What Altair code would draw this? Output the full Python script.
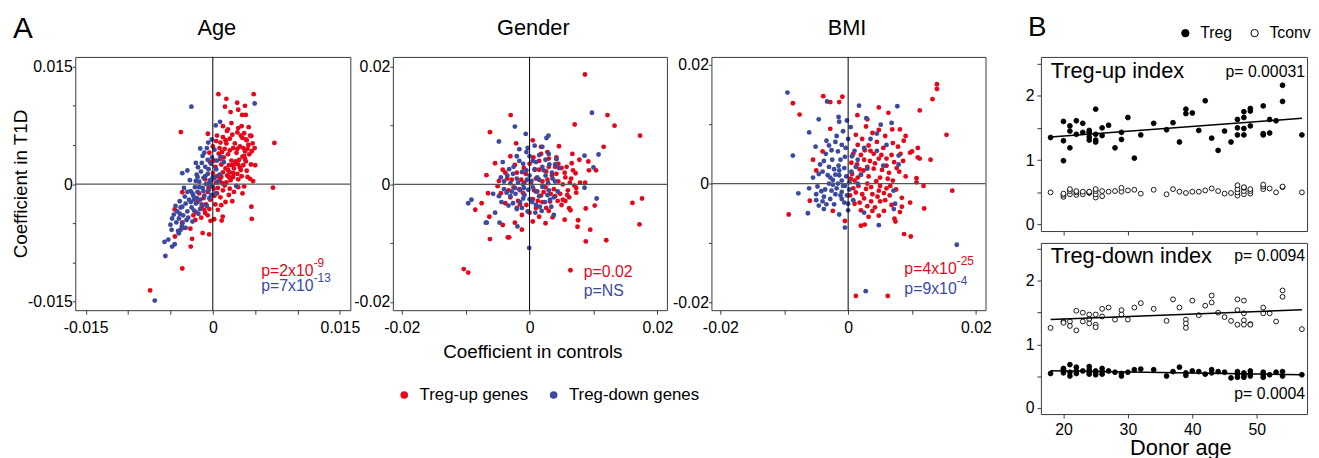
import altair as alt
import pandas as pd

FONT = "Liberation Sans"
RED = "#e5081a"
BLUE = "#3b4a9f"
FRAME = "#3a3a3a"

# ---------------- Panel A: coefficients (units of 1e-3): (controls, T1D) ----------------
age_up = [(0.66,11.5),(4.82,11.5),(1.6,10.9),(2.88,10.4),(1.44,9.9),(3.0,9.5),(3.8,10.0),(2.1,9.2),
          (3.46,8.84),(3.89,8.84),(-3.77,6.65),(-0.58,6.44),(1.79,7.0),(1.67,6.8),(3.0,7.16),(4.24,7.28),
          (7.27,5.26),(4.55,6.15),(3.7,6.5),(3.9,5.7),(4.94,4.6),(5.0,2.4),(4.4,0.67),(4.75,0.38),
          (7.1,-0.46),(3.5,-1.2),(2.3,-2.2),(4.55,-2.9),(4.6,-4.46),(1.17,-4.17),(1.05,-4.67),(0.16,-4.5),
          (-0.27,-4.7),(-1.2,-6.27),(-0.43,-6.44),(-2.45,-7.0),(-2.6,-8.0),(-3.6,-10.8),(-7.4,-13.6),
          (-3.6,-1.05),(-4.5,-3.24),(-3.6,-4.9),(-3.4,-5.6),(-4.47,-6.7),(-2.65,-5.7),(-2.06,-4.6),
          (-1.36,-4.3),(-0.9,-3.7),
          (0.5,1.0),(0.8,0.5),(1.2,1.5),(1.5,2.0),(1.0,2.5),(2.0,1.5),(2.5,2.0),(2.2,3.0),(3.0,2.5),
          (3.5,3.5),(2.8,4.0),(3.2,4.8),(3.8,4.2),(4.2,5.0),(1.8,3.8),(1.4,4.5),(0.9,3.2),(0.3,2.2),
          (0.6,-0.5),(1.2,-0.8),(0.2,-1.5),(-0.3,-2.0),(-0.6,-1.0),(-0.2,0.5),(1.6,0.2),(2.4,0.9),
          (2.9,1.3),(3.3,1.8),(3.9,2.9),(4.3,3.8),(2.6,5.2),(2.0,5.8),(1.2,6.0),(0.4,5.5),(0.0,4.8),
          (-0.4,4.0),(0.7,3.9),(1.9,2.4),(2.7,2.9),(3.6,2.4),(4.0,1.7),(3.4,1.0),(2.1,0.5),(1.4,-0.2),
          (0.9,-1.7),(0.3,-2.6),(-0.8,-2.6),(-1.1,-1.8),(-0.4,-3.2),(0.1,-0.6),(1.7,1.1),(2.3,2.4),
          (3.1,3.1),(3.7,3.6),(4.1,4.5),(4.4,6.2),(3.5,5.9),(2.9,6.6),(2.4,4.6),(1.1,4.1),(1.6,5.2),
          (0.5,6.2),(3.0,-0.4),(2.5,-1.0),(1.9,-1.4),(1.0,-2.7),(-1.6,-1.2),(-1.3,-2.9),(-2.0,-3.6),
          (-0.9,0.6),
          (0.4,0.2),(1.0,0.9),(1.8,1.8),(2.6,2.6),(3.2,2.1),(3.8,3.2),(4.6,4.2),(4.0,5.6),(3.3,6.2),
          (2.3,6.3),(1.5,5.6),(0.8,4.6),(0.2,3.0),(1.3,3.4),(2.0,4.3),(2.9,4.5),(3.6,4.6),(4.7,5.2),
          (2.4,1.4),(3.0,0.6),(1.9,0.9),(1.1,0.1),(0.5,-1.2),(-0.5,-0.5),(-1.0,-3.3),(-1.8,-2.3),
          (-2.3,-4.0),(-0.6,-4.0),(0.6,-3.3),(1.5,-2.3),(2.0,-0.6),(4.1,0.9),(3.7,-0.3),(0.0,1.4),
          (-0.3,2.8),(4.5,2.5),(1.2,7.4),(2.2,7.8),(0.9,5.3),(3.4,7.4)]
age_down = [(4.94,10.3),(-2.53,9.9),(0.86,7.96),(0.35,7.5),(-1.48,4.55),(-0.54,5.3),(-0.12,5.7),
            (-3.6,1.39),(-3.0,1.73),(-2.0,2.7),(-1.75,2.15),(-1.2,3.6),(2.76,-0.25),(-5.7,-7.4),
            (-5.25,-7.1),(-4.86,-5.85),(-5.6,-9.2),(-6.85,-14.9),(-4.8,-8.0),(-4.5,-7.7),(-4.0,-6.3),
            (-3.8,-5.85),(-3.66,-5.4),
            (-4.2,-3.5),(-3.8,-3.0),(-3.5,-4.0),(-3.2,-2.5),(-3.0,-3.5),(-2.8,-2.0),(-2.5,-3.0),
            (-2.3,-1.5),(-2.0,-2.5),(-1.8,-1.0),(-1.5,-2.0),(-1.2,-0.5),(-1.0,-1.5),(-0.8,0.0),
            (-0.5,-0.8),(-0.3,0.5),(0.0,-0.3),(0.2,0.8),(-0.6,1.3),(-1.1,0.8),(-1.6,0.3),(-2.1,-0.4),
            (-2.6,-0.9),(-3.3,-1.6),(-3.9,-2.2),(-4.4,-2.8),(-1.4,1.6),(-0.9,2.2),(-0.2,2.6),(0.4,1.9),
            (0.6,0.3),(-0.4,-1.8),(-1.3,-2.6),(-2.2,-3.4),(-2.9,-4.3),(-3.6,-5.0),(-4.0,-4.4),
            (-2.4,-4.8),(-1.7,-3.8),(-0.7,-2.8),(0.3,-1.2),(0.8,1.2),(-0.1,3.4),(0.2,4.4),(-0.6,3.1),
            (-1.9,1.2),(-2.7,0.5),(-3.4,-0.5),(-4.6,-3.9),(-5.0,-5.2),(1.3,2.8),(0.9,3.5),(-1.0,4.0),
            (-0.3,-0.1),
            (-4.3,-4.9),(-3.1,-4.6),(-2.6,-2.3),(-1.9,-1.8),(-1.1,-0.9),(-0.4,0.2),(-1.6,-0.4),
            (-2.4,-1.2),(-3.6,-2.9),(-4.8,-4.4),(-2.0,0.4),(-0.9,1.0),(-1.3,2.7),(-0.5,1.9),(0.0,0.9),
            (-3.0,-1.0),(-2.2,-2.0),(-1.5,-3.2),(-3.9,-3.8),(-0.2,-1.4),(-4.1,-6.0),(-3.2,-5.6),
            (-1.8,0.9),(-0.7,4.6),(0.5,3.0)]
gender_up = [(8.67,18.7),(-2.96,11.8),(12.2,11.8),(13.3,10.0),(7.06,10.2),(-6.2,8.9),(17.3,8.3),
             (11.6,6.4),(-5.4,3.6),(-6.75,1.58),(9.2,3.9),(9.3,2.4),(10.4,2.4),(-7.5,-3.2),(-8.5,-4.3),
             (-6.5,-1.5),(16.1,-3.15),(17.6,-2.4),(17.2,-6.8),(10.2,-3.6),(8.8,-4.1),(7.6,-6.1),
             (7.5,-7.2),(9.5,-7.7),(12.0,-9.5),(8.8,-9.7),(-6.2,-9.3),(-3.4,-9.0),(-3.2,-9.0),
             (-4.2,-6.9),(-10.3,-14.4),(-9.6,-15.0),(6.4,-14.6),(-6.3,-5.5),(-2.3,-6.5),(-1.2,-7.7),
             (0.5,-6.3),(2.5,-6.6),(5.5,-6.0),(6.2,-4.05),(6.4,-4.4),(5.6,-2.8),(5.2,-2.6),(7.3,-1.4),
             (7.3,-0.6),(7.9,0.3),(8.7,0.3),(7.2,1.9),(6.7,5.2),(4.6,6.5),(1.8,6.4),(0.5,7.5),(-2.1,7.0),
             (1.0,1.0),(2.5,-0.5),(3.5,1.5),(4.5,0.5),(5.5,2.0),(6.0,-1.0),(4.0,-2.0),(2.0,-3.0),
             (0.5,-2.5),(-1.0,-1.5),(-2.5,-0.5),(-3.5,1.0),(-2.0,2.0),(0.0,3.5),(1.5,4.0),(3.0,3.0),
             (4.5,3.5),(5.8,3.0),(6.5,1.0),(5.0,-3.5),(3.0,-4.5),(1.0,-4.0),(-0.5,-3.5),(-2.0,-4.0),
             (-3.8,-3.2),(-4.5,-1.5),(-3.0,-2.2),(2.0,0.5),(3.8,-0.8),(1.2,-1.2),(0.2,0.2),(-1.3,0.8),
             (5.2,0.0),(6.8,2.4),(4.2,4.6),(2.6,2.2),(0.8,2.5),(-0.6,1.8),(-1.8,-2.8),(1.8,-1.9),
             (3.2,-2.9),(4.8,-1.6),(6.2,-2.2),(2.8,5.5),(-3.0,4.8),(-4.2,2.5),(-5.0,-0.3),(3.6,-5.6),
             (1.5,-5.5),(-1.2,-5.2),
             (1.5,2.5),(2.8,0.8),(4.2,1.8),(5.0,2.8),(3.3,-1.6),(2.2,-1.3),(0.7,-1.0),(-0.8,0.3),
             (-1.6,-0.8),(-2.8,0.8),(-3.3,-1.0),(-1.5,-3.4),(0.0,-4.8),(1.3,-2.8),(2.6,-4.0),(4.4,-2.8),
             (5.9,-1.8),(6.3,0.3),(7.0,-0.2),(5.6,1.2),(4.0,3.0),(3.0,4.4),(1.8,5.2),(0.6,4.6),
             (-0.9,2.8),(-2.3,3.3),(-3.8,2.0),(-4.8,0.6),(6.6,3.6),(7.8,4.2)]
gender_down = [(9.76,12.2),(-2.3,9.85),(-0.6,8.6),(-4.8,7.3),(2.96,8.3),(2.65,7.9),(8.6,4.9),
               (10.8,5.1),(10.0,2.9),(8.6,-0.56),(10.5,-2.4),(-9.6,-3.2),(-9.1,-2.6),(-6.85,-6.5),
               (-6.7,-6.5),(-4.7,-6.5),(-1.9,-7.15),(-0.05,-10.8),(-5.7,-1.6),(-5.4,-4.8),(3.8,-5.2),
               (-1.0,0.0),(-2.0,1.0),(-1.5,-1.0),(0.0,1.5),(0.5,-0.5),(1.5,0.8),(2.5,1.5),(3.5,2.0),
               (4.0,0.5),(3.0,-1.0),(1.5,-2.0),(0.0,-2.5),(-1.5,-3.0),(-3.0,-2.0),(-4.0,-0.8),
               (-3.5,1.5),(-2.5,3.0),(-1.0,3.5),(0.5,4.0),(1.5,5.0),(2.5,4.2),(-0.5,5.5),(-2.0,4.8),
               (-4.2,3.8),(-4.5,1.2),(-3.0,0.2),(-0.8,-1.8),(1.0,-3.5),(2.4,-3.0),(3.8,-2.2),(4.6,2.8),
               (3.1,3.4),(0.8,2.6),(-0.4,0.8),(-2.3,-0.6),(-3.3,-3.6),(-2.0,-4.2),(-0.3,-4.6),
               (1.9,-4.5),(2.9,0.2),(4.2,4.3),(2.0,6.4),(0.8,6.6),(-1.6,6.0),(-0.2,-0.9),(1.2,1.2),
               (-1.2,2.1),(-2.8,-1.2),(3.4,-3.8),(-4.8,-2.0),
               (-1.8,0.3),(-0.9,-0.6),(0.3,0.6),(1.0,-1.2),(2.0,-0.4),(2.2,2.4),(3.6,1.0),(4.4,-1.2),
               (3.2,-2.6),(0.4,-3.0),(-1.0,-2.4),(-2.2,-1.6),(-3.6,-1.4),(-4.0,0.5),(-3.2,2.6),
               (-1.6,4.0),(0.0,4.8),(1.0,3.8),(2.0,3.0),(3.0,5.2),(-0.3,6.2),(-2.6,1.8),(-1.2,-4.0),
               (0.9,-4.8),(2.8,-1.8),(4.0,3.4),(-4.4,-3.0),(-2.6,-3.2),(1.6,-3.8),(-0.5,2.4)]
bmi_up = [(13.9,16.7),(13.9,15.9),(13.2,14.2),(11.2,12.3),(4.8,12.8),(6.3,11.9),(3.0,10.8),(1.45,11.5),
          (-8.65,13.5),(-7.6,11.6),(-3.9,14.7),(-2.8,13.7),(-1.4,13.7),(-0.9,14.6),(-2.8,9.2),
          (15.4,8.2),(12.9,4.0),(10.9,6.0),(10.9,4.4),(10.0,5.4),(9.7,5.2),(11.2,4.2),(9.0,8.0),
          (8.1,9.1),(6.9,9.1),(8.7,7.2),(10.7,0.9),(10.7,0.2),(11.8,-0.4),(16.3,-1.2),(11.9,-4.2),
          (9.7,-3.2),(8.4,-3.9),(8.1,-4.8),(7.25,-5.9),(7.4,-6.4),(8.75,-8.5),(9.8,-8.9),(2.0,-7.1),
          (2.6,-6.9),(4.8,-5.4),(-5.5,4.0),(-4.0,5.4),(-6.0,-2.9),(-9.3,-5.2),(-5.0,2.2),(-0.5,-6.3),
          (-2.4,-4.6),(1.2,-18.9),(6.2,-18.9),
          (1.0,0.5),(2.0,1.5),(3.0,0.0),(4.0,2.5),(5.0,1.0),(6.0,3.0),(7.0,0.5),(8.0,2.0),(2.5,4.0),
          (3.5,5.5),(5.5,6.0),(4.5,7.0),(1.5,6.5),(0.5,3.5),(1.2,-1.5),(2.5,-2.5),(3.8,-1.8),
          (5.0,-3.0),(6.5,-2.0),(7.5,-1.0),(4.2,-4.0),(2.0,-4.5),(0.3,-2.0),(6.8,4.8),(8.6,3.8),
          (3.0,2.8),(4.8,4.2),(6.0,-0.8),(2.8,-0.9),(1.8,2.4),(0.8,5.0),(2.2,7.5),(3.8,8.5),(5.8,8.0),
          (7.8,6.2),(9.0,1.2),(8.4,-2.4),(5.6,-4.6),(3.2,-5.6),(1.0,-3.4),(4.4,0.4),(5.3,2.3),
          (3.4,3.8),(6.4,1.8),(7.2,3.6),(2.6,5.6),(0.6,1.6),(1.6,-0.4),(3.6,-3.0),(4.8,-1.2),
          (1.5,1.0),(2.4,2.2),(3.2,1.2),(4.2,3.4),(5.0,-0.4),(6.2,0.8),(7.6,2.6),(2.2,-1.8),
          (3.6,-0.6),(4.6,-2.2),(5.8,-2.8),(6.8,-3.6),(3.0,-3.8),(1.8,-3.2),(0.8,-0.8),(0.4,0.8),
          (1.4,3.2),(2.0,4.8),(3.2,6.4),(4.0,5.0),(5.2,4.8),(6.0,4.2),(7.0,6.8),(8.2,5.0),(4.8,9.0),
          (2.8,9.6),(1.2,8.2),(5.6,-1.6),(3.8,-4.6),(6.6,-0.4)]
bmi_down = [(-9.5,15.3),(-3.3,13.8),(1.7,13.1),(7.7,13.0),(2.85,11.0),(-4.6,10.8),(-1.5,11.2),
            (-1.4,10.4),(-0.2,10.6),(-6.1,8.6),(-8.65,4.7),(-5.1,6.2),(6.8,10.2),(5.1,9.9),(4.5,8.4),
            (7.9,4.7),(7.9,3.2),(7.1,-1.2),(7.35,-3.4),(7.15,-4.3),(4.8,-7.0),(-0.5,-7.4),(-1.4,-5.2),
            (-3.8,-4.3),(-6.3,-5.0),(-7.8,-1.65),(-6.1,-0.8),(-4.6,-3.7),(17.0,-10.3),(2.75,-18.1),
            (2.5,-4.9),
            (-1.0,0.5),(-2.0,1.5),(-3.0,0.0),(-4.0,2.0),(-1.5,3.0),(-0.5,4.5),(-2.5,4.0),(-3.5,5.0),
            (-1.0,6.5),(0.0,7.5),(-2.0,7.0),(0.5,2.0),(0.2,-1.0),(-1.2,-2.0),(-2.6,-1.2),(-3.8,-2.2),
            (-4.8,-0.5),(-5.5,1.0),(-4.4,3.2),(-3.0,2.8),(-1.8,-0.8),(-0.6,-3.2),(0.0,-4.5),
            (-2.2,-3.5),(1.5,4.0),(2.5,6.0),(3.5,7.5),(4.5,5.5),(3.0,2.5),(1.5,0.0),(0.8,-2.8),
            (-0.3,1.2),(-1.4,2.2),(-2.4,-0.2),(-3.4,-3.5),(-5.0,-2.8),(-1.6,5.4),(-0.8,8.8),(0.4,9.5),
            (-3.0,6.4),(-4.2,-1.3),(-0.5,-0.4),(1.0,5.5),(2.0,1.5),(5.5,3.0),(6.0,6.5),(-2.8,1.0),
            (-1.0,-1.4),
            (-1.6,0.0),(-2.2,2.4),(-3.2,1.4),(-3.6,-1.0),(-4.6,1.6),(-2.0,-1.8),(-1.0,-2.6),
            (-0.2,-2.0),(0.2,0.2),(-0.6,2.6),(-1.2,4.0),(-2.6,5.6),(-3.8,3.8),(-5.0,-1.8),(-0.4,6.0),
            (0.6,4.6),(-1.8,8.0),(-4.0,-3.0),(-2.8,-2.6),(0.0,-3.4),(-1.4,1.4),(-2.4,0.6),(-0.8,-0.4),
            (1.2,2.8),(-3.4,7.2)]

# ---------------- Panel B: (donor age, index) ----------------
up_treg = [(18,1.35),(20,1.60),(20,1.30),(20,0.99),(21,1.53),(21,1.45),(21,1.19),(22,1.61),(22,1.40),
           (23,1.57),(23,1.43),(24,1.46),(24,1.43),(24,1.36),(24,1.31),(25,1.79),(25,1.40),(25,1.31),
           (25,1.28),(26,1.50),(26,1.38),(27,1.54),(28,1.19),(29,1.43),(29,1.32),(30,1.66),(31,1.03),
           (32,1.39),(34,1.57),(36,1.47),(37,1.58),(38,1.28),(39,1.79),(39,1.72),(40,1.73),(41,1.46),
           (42,1.92),(43,1.34),(44,1.15),(45,1.45),(46,1.28),(47,1.63),(47,1.50),(47,1.39),(48,1.75),
           (48,1.66),(48,1.49),(48,1.39),(49,1.80),(49,1.76),(49,1.53),(51,1.84),(51,1.41),(51,1.39),
           (52,1.63),(52,1.42),(53,1.61),(54,2.16),(54,1.91),(57,1.39)]
up_tconv = [(18,0.50),(20,0.43),(20,0.46),(20,0.48),(21,0.47),(21,0.52),(21,0.55),(22,0.46),(22,0.50),
            (22,0.52),(23,0.47),(23,0.51),(24,0.49),(24,0.50),(24,0.51),(25,0.42),(25,0.47),(25,0.52),
            (25,0.55),(26,0.44),(26,0.52),(27,0.51),(28,0.52),(29,0.51),(29,0.57),(30,0.53),(31,0.54),
            (32,0.48),(34,0.54),(36,0.47),(37,0.55),(38,0.51),(39,0.49),(40,0.51),(41,0.51),(42,0.53),
            (43,0.56),(44,0.52),(45,0.48),(46,0.49),(47,0.45),(47,0.50),(47,0.55),(47,0.61),(48,0.47),
            (48,0.52),(48,0.57),(48,0.58),(49,0.48),(49,0.52),(49,0.55),(51,0.55),(51,0.59),(51,0.62),
            (52,0.56),(53,0.50),(54,0.58),(54,0.59),(57,0.50)]
down_treg = [(18,0.54),(20,0.55),(20,0.58),(20,0.60),(20,0.62),(21,0.50),(21,0.56),(21,0.68),(22,0.54),
             (22,0.58),(22,0.64),(23,0.58),(24,0.53),(24,0.56),(24,0.60),(24,0.65),(25,0.52),(25,0.55),
             (25,0.58),(26,0.53),(26,0.57),(26,0.62),(27,0.58),(28,0.56),(29,0.50),(29,0.54),(30,0.56),
             (31,0.60),(32,0.61),(34,0.60),(36,0.50),(37,0.57),(38,0.64),(39,0.51),(39,0.55),(40,0.58),
             (41,0.57),(42,0.53),(43,0.55),(43,0.60),(44,0.57),(45,0.56),(46,0.47),(47,0.48),(47,0.53),
             (47,0.57),(48,0.48),(48,0.51),(48,0.55),(49,0.50),(49,0.53),(49,0.58),(51,0.48),(51,0.52),
             (51,0.56),(52,0.52),(53,0.56),(54,0.50),(54,0.57),(57,0.52)]
down_tconv = [(18,1.26),(20,1.36),(20,1.34),(21,1.36),(21,1.29),(22,1.53),(22,1.22),(23,1.50),(23,1.36),
              (24,1.47),(24,1.40),(24,1.33),(25,1.47),(25,1.31),(25,1.27),(26,1.56),(26,1.44),(27,1.58),
              (28,1.39),(29,1.54),(29,1.47),(30,1.39),(31,1.58),(32,1.65),(34,1.56),(36,1.37),(37,1.71),
              (38,1.58),(39,1.39),(39,1.33),(39,1.26),(40,1.69),(41,1.46),(42,1.61),(43,1.77),(43,1.66),
              (44,1.50),(45,1.43),(46,1.37),(47,1.71),(47,1.54),(47,1.31),(48,1.69),(48,1.49),(48,1.38),
              (48,1.31),(49,1.32),(49,1.31),(51,1.58),(51,1.49),(52,1.49),(53,1.36),(54,1.85),(54,1.75),
              (57,1.24)]

SETS = ["Treg-up genes", "Treg-down genes"]
CELLS = ["Treg", "Tconv"]

A_H = 256
A_W = [278, 277, 277]
B_W = 269
B1_H = 176
B2_H = 173
TOP = 46  # every cell's bounds reach this far above its plot, so plot tops line up


def txt(text, x, y, size, color="black", align="left"):
    return alt.Chart(pd.DataFrame({"t": [text]})).mark_text(
        align=align, baseline="alphabetic", fontSize=size, font=FONT, color=color
    ).encode(text="t:N", x=alt.value(x), y=alt.value(y))


def extent(left, right):
    # invisible (white) rule above the plot that fixes the cell's layout extent
    return alt.Chart(pd.DataFrame({"m": [0]})).mark_rule(color="white", strokeWidth=1).encode(
        x=alt.value(-left), x2=alt.value(right), y=alt.value(-TOP), y2=alt.value(-TOP))


def gene_df(up, down):
    rows = [{"x": a / 1000, "y": b / 1000, "set": SETS[0]} for a, b in up]
    rows += [{"x": a / 1000, "y": b / 1000, "set": SETS[1]} for a, b in down]
    return pd.DataFrame(rows)


def lab_expr(major, label):
    return (f"abs(datum.value) < 1e-9 ? '0' : (abs(datum.value) > {major * 0.99} ? "
            f"(datum.value > 0 ? '{label}' : '-{label}') : '')")


def scatter(up, down, xdom, ydom, ticks, major, mlabel, title, tx, width, ptxt, ext,
            ylab=False, xlab=False):
    df = gene_df(up, down)
    xkw = dict(values=ticks, labelExpr=lab_expr(major, mlabel), tickSize=4, labelPadding=6)
    if xlab:
        xkw.update(title="Coefficient in controls", titleX=141, titleY=48,
                   titleBaseline="alphabetic", titleFontSize=19)
    else:
        xkw.update(title=None)
    ykw = dict(values=ticks, labelExpr=lab_expr(major, mlabel), tickSize=3, labelPadding=0)
    if ylab:
        ykw.update(title="Coefficient in T1D", titleX=-55, titleY=128,
                   titleBaseline="middle", titleFontSize=19)
    else:
        ykw.update(title=None)
    pts = alt.Chart(df).mark_circle(size=24, opacity=1).encode(
        x=alt.X("x:Q", scale=alt.Scale(domain=xdom, nice=False, zero=False), axis=alt.Axis(**xkw)),
        y=alt.Y("y:Q", scale=alt.Scale(domain=ydom, nice=False, zero=False), axis=alt.Axis(**ykw)),
        color=alt.Color("set:N", scale=alt.Scale(domain=SETS, range=[RED, BLUE]),
                        legend=alt.Legend(title=None, orient="none", legendX=324, legendY=333,
                                          direction="horizontal", columns=2, labelFontSize=17,
                                          symbolType="circle", symbolSize=60, labelOffset=7,
                                          columnPadding=17, labelFont=FONT)),
    )
    zero = pd.DataFrame({"z": [0]})
    vline = alt.Chart(zero).mark_rule(color="black", strokeWidth=1).encode(x=alt.datum(0))
    hline = alt.Chart(zero).mark_rule(color="#555555", strokeWidth=1.2).encode(y=alt.datum(0))
    layers = [extent(*ext), pts, vline, hline]
    (m1, s1, c1), (m2, s2, c2), x0, yb = ptxt
    wbase = 3.31 * 16
    layers += [txt(m1, x0, yb[0], 16, c1), txt(m2, x0, yb[1], 16, c2)]
    if s1:
        layers.append(txt(s1, x0 + wbase, yb[0] - 9, 12, c1))
    if s2:
        layers.append(txt(s2, x0 + wbase, yb[1] - 9, 12, c2))
    layers.append(txt(title, tx, -22, 22, align="center"))
    if ylab:
        layers.append(txt("A", -63, -19, 30))
    return alt.layer(*layers).properties(width=width, height=A_H)


a1 = scatter(age_up, age_down, [-0.01623, 0.01623], [-0.01613, 0.01626],
             [-0.015, -0.01, -0.005, 0, 0.005, 0.01, 0.015], 0.015, "0.015", "Age", 143, A_W[0],
             (("p=2x10", "-9", RED), ("p=7x10", "-13", BLUE), 188, (221, 237)),
             (67, A_W[0] + 12), ylab=True)
a2 = scatter(gender_up, gender_down, [-0.0214, 0.0215], [-0.0214, 0.0217],
             [-0.02, -0.01, 0, 0.01, 0.02], 0.02, "0.02", "Gender", 142, A_W[1],
             (("p=0.02", "", RED), ("p=NS", "", BLUE), 193, (222, 242)),
             (42, A_W[1] + 12), xlab=True)
a3 = scatter(bmi_up, bmi_down, [-0.0214, 0.0215], [-0.0213, 0.0213],
             [-0.02, -0.01, 0, 0.01, 0.02], 0.02, "0.02", "BMI", 137, A_W[2],
             (("p=4x10", "-25", RED), ("p=9x10", "-4", BLUE), 195, (219, 240)),
             (44, A_W[2] + 12))


def idx_df(treg, tconv):
    rows = [{"age": a, "v": v, "cell": "Treg"} for a, v in treg]
    rows += [{"age": a, "v": v, "cell": "Tconv"} for a, v in tconv]
    return pd.DataFrame(rows)


def index_panel(treg, tconv, height, fit_cells, texts, bottom=False):
    df = idx_df(treg, tconv)
    if bottom:
        xaxis = alt.Axis(values=[20, 30, 40, 50], tickSize=4, labelPadding=4, title="Donor age",
                         titleFontSize=22, titleX=141, titleY=41, titleBaseline="alphabetic")
    else:
        xaxis = alt.Axis(values=[20, 30, 40, 50], tickSize=4, labels=False, title=None)
    x_enc = alt.X("age:Q", scale=alt.Scale(domain=[16.5, 57.8], nice=False, zero=False), axis=xaxis)
    y_enc = alt.Y("v:Q", scale=alt.Scale(domain=[-0.1, 2.6], nice=False, zero=False),
                  axis=alt.Axis(values=[0, 0.5, 1, 1.5, 2, 2.5], tickSize=4, labelPadding=3,
                                labelExpr="datum.value % 1 == 0 ? format(datum.value, 'd') : ''",
                                title=None))
    pts = alt.Chart(df).mark_circle(size=24, opacity=1, stroke="black", strokeWidth=0.9).encode(
        x=x_enc, y=y_enc,
        fill=alt.Fill("cell:N", scale=alt.Scale(domain=CELLS, range=["black", "white"]),
                      legend=alt.Legend(title=None, orient="none", legendX=1114, legendY=-32,
                                        direction="horizontal", columns=2, labelFontSize=16,
                                        symbolType="circle", symbolSize=55, symbolStrokeColor="black",
                                        symbolStrokeWidth=1, labelOffset=7, columnPadding=14,
                                        labelFont=FONT)),
    )
    layers = []
    if not bottom:
        layers.append(extent(55, B_W))
    layers.append(pts)
    for c in fit_cells:
        layers.append(
            alt.Chart(df).transform_filter(alt.datum.cell == c)
            .transform_regression("age", "v")
            .mark_line(color="black", strokeWidth=1.5)
            .encode(x=x_enc, y=y_enc)
        )
    for t in texts:
        layers.append(txt(*t))
    return alt.layer(*layers).properties(width=B_W, height=height)


b1 = index_panel(up_treg, up_tconv, B1_H, ["Treg"],
                 [("Treg-up index", 10, 21, 22), ("p= 0.00031", 267, 20, 16, "black", "right"),
                  ("B", -13, -21, 28)])
b2 = index_panel(down_treg, down_tconv, B2_H, ["Treg", "Tconv"],
                 [("Treg-down index", 10, 20, 22), ("p= 0.0094", 267, 18, 16, "black", "right"),
                  ("p= 0.0004", 267, 158, 16, "black", "right")], bottom=True)

panel_b = alt.vconcat(b1, b2, spacing=12, bounds="flush")

chart = alt.hconcat(a1, a2, a3, panel_b, spacing=-13, bounds="full").properties(
    padding={"left": 0, "top": 0, "right": 0, "bottom": 0}
).configure_axis(
    labelFont=FONT, titleFont=FONT, labelFontSize=16, labelColor="black", titleColor="black",
    tickColor=FRAME, grid=False, domain=False, titleFontWeight="normal",
).configure_view(stroke=FRAME, strokeWidth=1)

chart.save("out.html", embed_options={"renderer": "svg", "actions": False})
